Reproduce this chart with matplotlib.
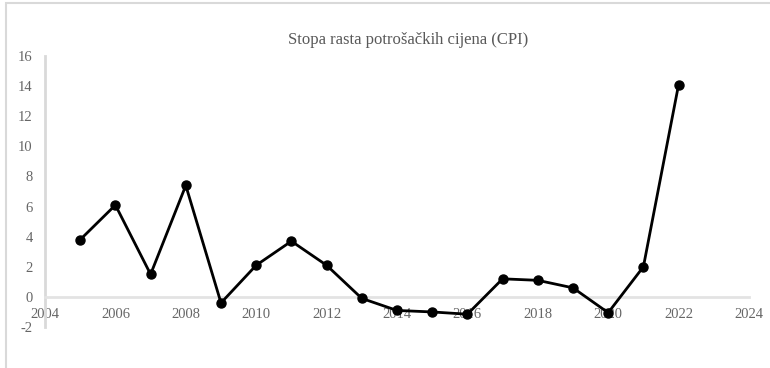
import matplotlib
matplotlib.use("Agg")
import matplotlib.pyplot as plt
from matplotlib.patches import Rectangle

years = [2005, 2006, 2007, 2008, 2009, 2010, 2011, 2012, 2013, 2014,
         2015, 2016, 2017, 2018, 2019, 2020, 2021, 2022]
cpi = [3.8, 6.1, 1.5, 7.4, -0.4, 2.1, 3.7, 2.1, -0.1, -0.9,
       -1.0, -1.15, 1.2, 1.1, 0.6, -1.05, 2.0, 14.1]
x_ticks = list(range(2004, 2025, 2))
y_ticks = list(range(-2, 17, 2))
title = "Stopa rasta potrošačkih cijena (CPI)"

plt.rcParams["font.family"] = ["Liberation Serif", "DejaVu Serif"]
plt.rcParams["axes.unicode_minus"] = False
W, H = 770, 368
fig = plt.figure(figsize=(W / 100, H / 100), dpi=100)

# chart-area frame
fig.patches.append(Rectangle((6 / W, -0.1), 1.2, 1.1 - 3 / H,
                             transform=fig.transFigure, fill=False,
                             edgecolor="#d9d9d9", linewidth=1.5))

ax = fig.add_axes([45 / W, 1 - 327 / H, (749 - 45) / W, (327 - 56) / H])
ax.set_xlim(2004, 2024)
ax.set_ylim(-2, 16)

for s in ("top", "right"):
    ax.spines[s].set_visible(False)
ax.spines["left"].set_color("#d9d9d9")
ax.spines["left"].set_linewidth(2)
ax.spines["bottom"].set_position(("data", 0))
ax.spines["bottom"].set_color("#e3e3e3")
ax.spines["bottom"].set_linewidth(2)

ax.set_xticks(x_ticks)
ax.set_yticks(y_ticks)
ax.tick_params(axis="x", length=0, pad=8, labelsize=10.5, labelcolor="#666666")
ax.tick_params(axis="y", length=0, pad=9, labelsize=10.5, labelcolor="#666666")

ax.plot(years, cpi, color="black", linewidth=2, marker="o", markersize=6.5,
        zorder=3, clip_on=False)

fig.text(408 / W, 1 - 40 / H, title, ha="center", va="center",
         fontsize=12, color="#595959")

fig.savefig("out.png", dpi=100)
